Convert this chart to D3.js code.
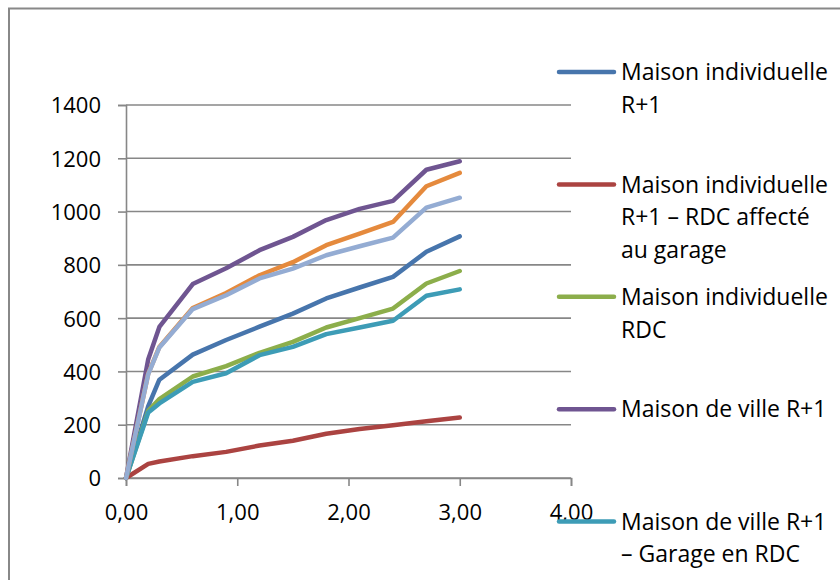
<!DOCTYPE html>
<html>
<head>
  <meta charset="utf-8">
  <title>Courbes maisons</title>
  <style type="text/css">
    body { margin: 0; background: #fff; }
    svg { display: block; }
    text { font-family: "Open Sans", Carlito, Calibri, sans-serif; fill: #000; }
  </style>
</head>
<body>

<svg id='vis' width='840' height='580'></svg>

<script src="https://cdnjs.cloudflare.com/ajax/libs/d3/7.8.5/d3.min.js"></script>
<script type="text/javascript">

  // abscissa values shared by every series
  var xValues = [0, 0.2, 0.3, 0.6, 0.9, 1.2, 1.5, 1.8, 2.1, 2.4, 2.7, 3.0];

  var indivR1      = [0, 270, 369, 463, 518, 568, 617, 674, 715, 755, 849, 907];
  var indivGarage  = [0, 53, 62, 82, 98, 122, 140, 166, 184, 198, 213, 227];
  var indivRDC     = [0, 252, 296, 381, 420, 470, 511, 565, 600, 636, 730, 777];
  var villeR1      = [0, 446, 567, 728, 787, 855, 905, 968, 1010, 1040, 1157, 1189];
  var villeGarage  = [0, 246, 280, 361, 393, 461, 492, 540, 565, 590, 684, 708];
  var serie6       = [0, 392, 492, 638, 694, 761, 810, 874, 917, 961, 1095, 1145];
  var serie7       = [0, 390, 490, 634, 686, 749, 786, 836, 870, 902, 1015, 1052];

  var xTicks = [0, 1, 2, 3, 4];
  var yTicks = [0, 200, 400, 600, 800, 1000, 1200, 1400];

  // legend labels, one array of lines per visible entry
  var legendLabels = [
    ['Maison individuelle', 'R+1'],
    ['Maison individuelle', 'R+1 \u2013 RDC affect\u00e9', 'au garage'],
    ['Maison individuelle', 'RDC'],
    ['Maison de ville R+1'],
    ['Maison de ville R+1', '\u2013 Garage en RDC']
  ];

  var series = [
    { values: indivR1,     color: '#4775AC' },
    { values: indivGarage, color: '#AB4341' },
    { values: indivRDC,    color: '#8CAE4B' },
    { values: villeR1,     color: '#6F5591' },
    { values: villeGarage, color: '#3D9CB6' },
    { values: serie6,      color: '#E58A3D' },
    { values: serie7,      color: '#94ACD3' }
  ];

  var svg = d3.select('#vis');
  var axisColor = '#878787';
  var fontSize = '22px';

  // outer chart frame
  svg.append('rect')
    .attr('x', 9).attr('y', 8.5)
    .attr('width', 840).attr('height', 600)
    .attr('fill', 'none')
    .attr('stroke', '#888')
    .attr('stroke-width', 2);

  var xScale = d3.scaleLinear().domain([0, 4]).range([126, 571]),
      yScale = d3.scaleLinear().domain([0, 1400]).range([478, 105]);

  // horizontal gridlines
  svg.append('g')
    .selectAll('line')
    .data(yTicks)
    .join('line')
      .attr('x1', xScale(0)).attr('x2', xScale(4))
      .attr('y1', function(d) { return yScale(d) })
      .attr('y2', function(d) { return yScale(d) })
      .attr('stroke', axisColor)
      .attr('stroke-width', 1.6);

  var yAxis = svg.append('g')
    .attr('transform', 'translate(' + xScale(0) + ',0)')
    .call(d3.axisLeft(yScale).tickValues(yTicks).tickSize(8).tickPadding(17).tickFormat(d3.format('d')));

  var xAxis = svg.append('g')
    .attr('transform', 'translate(0,' + yScale(0) + ')')
    .call(d3.axisBottom(xScale).tickValues(xTicks).tickSize(8).tickPadding(18)
      .tickFormat(function(d) { return d3.format('.2f')(d).replace('.', ',') }));

  [xAxis, yAxis].forEach(function(a) {
    a.selectAll('path, line').attr('stroke', axisColor).attr('stroke-width', 1.6);
    a.selectAll('text')
      .attr('fill', '#000')
      .style('font-size', fontSize)
      .style('font-family', '"Open Sans", Carlito, Calibri, sans-serif');
  });
  yAxis.selectAll('text').attr('dy', '0.36em');

  var line = d3.line()
    .x(function(d, i) { return xScale(xValues[i]) })
    .y(function(d) { return yScale(d) });

  svg.append('g')
    .selectAll('path')
    .data(series)
    .join('path')
      .attr('d', function(d) { return line(d.values) })
      .attr('fill', 'none')
      .attr('stroke', function(d) { return d.color })
      .attr('stroke-width', 4.5)
      .attr('stroke-linejoin', 'round')
      .attr('stroke-linecap', 'round');

  // legend on the right
  var legendTop = 72, legendStep = 112.4, lineH = 32.5;
  var lg = svg.append('g')
    .selectAll('g')
    .data(legendLabels)
    .join('g')
      .attr('transform', function(d, i) { return 'translate(0,' + (legendTop + i * legendStep) + ')' });

  lg.append('line')
    .attr('x1', 559).attr('x2', 614)
    .attr('y1', 0).attr('y2', 0)
    .attr('stroke', function(d, i) { return series[i].color })
    .attr('stroke-width', 4.5)
    .attr('stroke-linecap', 'round');

  lg.each(function(lines) {
    var t = d3.select(this).append('text')
      .attr('x', 621)
      .attr('y', 0)
      .style('font-size', '23px');
    lines.forEach(function(s, k) {
      t.append('tspan')
        .attr('x', 621)
        .attr('y', k * lineH)
        .attr('dy', '0.36em')
        .text(s);
    });
  });

</script>
</body>
</html>
